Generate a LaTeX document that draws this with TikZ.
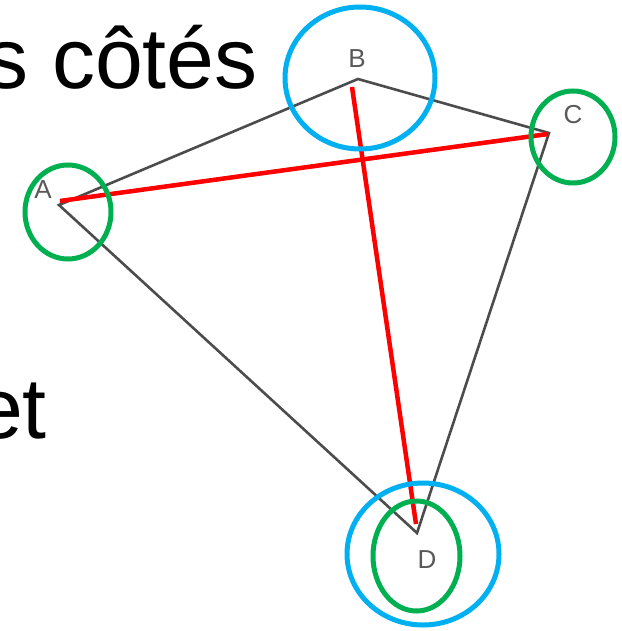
\documentclass[tikz,border=0pt]{standalone}
\usepackage{fontspec}
\setmainfont{Liberation Sans}
\definecolor{ringblue}{RGB}{0,176,240}
\definecolor{ringgreen}{RGB}{0,176,80}
\def\ringA{(68,212) ellipse (43pt and 47pt)}
\def\ringB{(360,78) ellipse (75pt and 71pt)}
\def\ringC{(573,137) ellipse (42pt and 46pt)}
\def\ringDout{(423,554) ellipse (76pt and 71pt)}
\def\ringDin{(416.5,556) ellipse (43.5pt and 55pt)}
\begin{document}
\begin{tikzpicture}[x=1pt,y=-1pt,
    side/.style={draw=black!70, line width=2.6pt, line join=miter},
    diag/.style={draw=red, line width=4.5pt},
    ring/.style={line width=5pt},
    big/.style={anchor=base east, inner sep=0pt, font=\fontsize{86}{96}\selectfont},
    vlabel/.style={text=black!65, font=\fontsize{26}{26}\selectfont, inner sep=0pt}]
                  \useasboundingbox (0,0) rectangle (621,631);
                  \node[big] (cotes) at (258,89) {s côtés};
                  \node[big] (et) at (47,438) {et};
                  \coordinate (A) at (59,205);
                  \coordinate (B) at (358,79);
                  \coordinate (C) at (549,133);
                  \coordinate (D) at (417,533);
                  \coordinate (Ar) at (60,201);
                  \coordinate (Cr) at (548,134);
                  \coordinate (Br) at (352,87);
                  \coordinate (Dr) at (416,524);
                  \draw[side] (A) -- (B) -- (C) -- (D) -- cycle;
                  \node[vlabel] (la) at (43,190) {A};
                  \node[vlabel] (lb) at (357,59) {B};
                  \node[vlabel] (lc) at (573,115) {C};
                  \node[vlabel] (ld) at (427,560) {D};
                  \draw[diag] (Ar) -- (Cr);
                  \draw[diag] (Br) -- (Dr);
                  \draw[ring, ringgreen] \ringA;
                  \draw[ring, ringblue] \ringB;
                  \draw[ring, ringgreen] \ringC;
                  \draw[ring, ringblue] \ringDout;
                  \draw[ring, ringgreen] \ringDin;
                \end{tikzpicture}
\end{document}
